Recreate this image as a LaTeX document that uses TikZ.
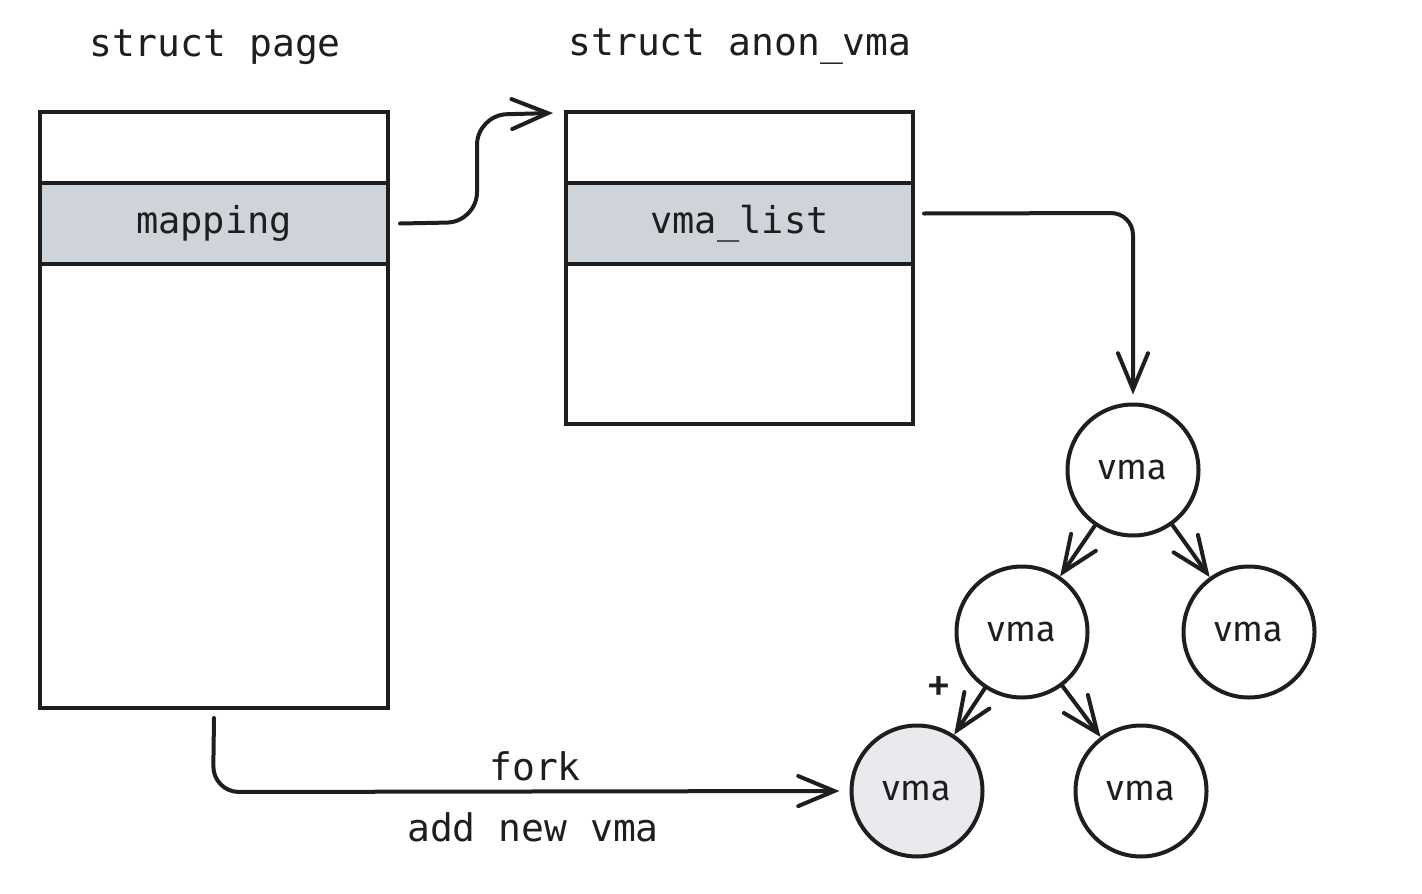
\documentclass[tikz,border=0pt]{standalone}
\usepackage{fontspec}
\setmonofont{DejaVu Sans Mono}
\newfontfamily\vmafont{Fira Sans}
\usetikzlibrary{arrows.meta}
\definecolor{rowgrey}{HTML}{CFD4DB}
\definecolor{nodegrey}{HTML}{E8EAED}
\definecolor{ink}{HTML}{1E1E1E}
\begin{document}
\begin{tikzpicture}[x=1pt,y=-1pt,
  every path/.style={line width=4pt,draw=ink},
  cell/.style={draw=ink,line width=4pt,minimum width=348pt,inner sep=0pt,
    font=\fontsize{37}{42}\selectfont\ttfamily,text=ink},
  vmanode/.style={circle,draw=ink,line width=4pt,fill=white,minimum size=131pt,inner sep=0pt,
    font=\vmafont\fontsize{36}{40}\selectfont,text=ink},
  lbl/.style={font=\fontsize{38}{42}\selectfont\ttfamily,text=ink,inner sep=0pt},
  conn/.style={line width=4pt,draw=ink,line cap=round,-{Straight Barb[length=36pt,width=30pt,line cap=round]}},
]
\path[use as bounding box,draw=none] (0,0) rectangle (1422,894);

% struct page
\node[lbl] (tpage) at (215,47) {struct page};
\node[cell,minimum height=71pt] (page1) at (214,147.5) {};
\node[cell,minimum height=81pt,fill=rowgrey] (pagemap) at (214,223.5) {mapping};
\node[cell,minimum height=444pt] (page3) at (214,486) {};

% struct anon_vma
\node[lbl] (tanon) at (740,47) {struct anon\_vma};
\node[cell,minimum height=71pt,minimum width=347pt] (anon1) at (739.5,147.5) {};
\node[cell,minimum height=81pt,minimum width=347pt,fill=rowgrey] (anonlist) at (739.5,223.5) {vma\_list};
\node[cell,minimum height=160pt,minimum width=347pt] (anon3) at (739.5,344) {};

% tree
\node[vmanode] (root) at (1133,470) {vma};
\node[vmanode] (left) at (1022,632) {vma};
\node[vmanode] (right) at (1249,632) {vma};
\node[vmanode,fill=nodegrey] (bl) at (917,791) {vma};
\node[vmanode] (br) at (1141,791) {vma};

% connectors
\draw[conn,rounded corners=30pt] ([xshift=10pt]pagemap.east) -- (477,222) -- (477,115) -- ([xshift=-11pt,yshift=-3pt]anon1.north west);
\draw[conn,rounded corners=22pt] ([xshift=9pt,yshift=10pt]anonlist.east) -- (1133,213) -- ([yshift=8pt]root.north);
\draw[conn] (root) -- (left);
\draw[conn] (root) -- (right);
\draw[conn] (left) -- (bl);
\draw[conn] (left) -- (br);
\draw[conn,rounded corners=26pt] ([yshift=-8pt]page3.south) -- (213,792) -- ([xshift=-10pt]bl.west);

% labels
\node[font=\vmafont\fontsize{50}{54}\selectfont,text=ink,inner sep=0pt] (plus) at (939,690) {+};
\node[lbl] (fork) at (535,766) {fork};
\node[lbl] (addnew) at (533,827) {add new vma};
\end{tikzpicture}
\end{document}
